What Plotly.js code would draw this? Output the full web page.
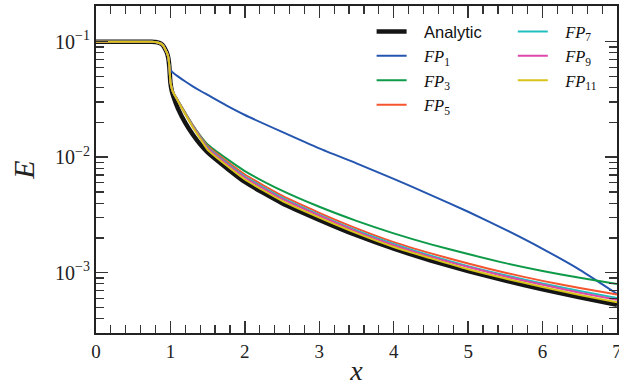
<!DOCTYPE html>
<html>
<head>
<meta charset="utf-8">
<script src="https://cdn.plot.ly/plotly-3.0.1.min.js"></script>
<style>
html,body{margin:0;padding:0;background:#fff;}
#chart{width:619px;height:387px;}
</style>
</head>
<body>
<div id="chart"></div>
<script>
// ---- data ----
const xGrid = [0,0.2,0.4,0.6,0.75,0.8,0.85,0.88,0.91,0.93,0.95,0.97,0.985,1.0,1.02,1.04,1.1,1.2,1.3,1.4,1.5,1.75,2,2.5,3,3.5,4,4.5,5,5.5,6,6.5,7];

const analytic = [0.1,0.1,0.1,0.1,0.0998,0.0993,0.0975,0.0955,0.091,0.086,0.081,0.073,0.061,0.044,0.037,0.0335,0.0265,0.0198,0.0157,0.0129,0.0110,0.0081,0.0061,0.0040,0.00287,0.00211,0.001614,0.001276,0.001033,0.000853,0.000718,0.000611,0.000527];

const fp1  = [0.1,0.1,0.1,0.1,0.0998,0.0993,0.0975,0.0955,0.091,0.086,0.081,0.074,0.062,0.057,0.055,0.0536,0.0501,0.0452,0.0411,0.0376,0.0346,0.0281,0.0232,0.01656,0.01193,0.00885,0.00649,0.00470,0.00337,0.00236,0.00161,0.00106,0.000656];
const fp3  = [0.1,0.1,0.1,0.1,0.0998,0.0993,0.0975,0.0955,0.091,0.086,0.081,0.074,0.062,0.045,0.039,0.036,0.0311,0.0242,0.0190,0.0154,0.0129,0.00977,0.00759,0.00513,0.00372,0.00281,0.00219,0.00176,0.00145,0.00121,0.001035,0.000904,0.0008];
const fp5  = [0.1,0.1,0.1,0.1,0.0998,0.0993,0.0975,0.0955,0.091,0.086,0.081,0.074,0.062,0.045,0.039,0.036,0.0310,0.0241,0.0189,0.0152,0.0125,0.0093,0.00708,0.00464,0.00330,0.00242,0.00184,0.00147,0.00120,0.00100,0.000850,0.000737,0.000647];
const fp7  = [0.1,0.1,0.1,0.1,0.0998,0.0993,0.0975,0.0955,0.091,0.086,0.081,0.074,0.062,0.045,0.039,0.036,0.0309,0.0239,0.0187,0.0150,0.01216,0.0090,0.00681,0.00446,0.00317,0.00232,0.00177,0.00140,0.00114,0.000951,0.000806,0.000695,0.000603];
const fp9  = [0.1,0.1,0.1,0.1,0.0998,0.0993,0.0975,0.0955,0.091,0.086,0.081,0.074,0.062,0.045,0.039,0.036,0.0308,0.0237,0.0185,0.0148,0.01191,0.00882,0.00667,0.00435,0.00311,0.00227,0.00173,0.00137,0.00112,0.000927,0.000785,0.000672,0.000584];
const fp11 = [0.1,0.1,0.1,0.1,0.0998,0.0993,0.0975,0.0955,0.091,0.086,0.081,0.074,0.062,0.045,0.039,0.036,0.0307,0.0235,0.0182,0.0145,0.01156,0.00851,0.00641,0.00419,0.00300,0.00220,0.00167,0.00133,0.00107,0.000890,0.000752,0.000642,0.000556];

const seriesNames = ['Analytic','<i>FP</i><sub>1</sub>','<i>FP</i><sub>3</sub>','<i>FP</i><sub>5</sub>','<i>FP</i><sub>7</sub>','<i>FP</i><sub>9</sub>','<i>FP</i><sub>11</sub>'];
const xTickVals = [0,1,2,3,4,5,6,7];
const yTickVals = [0.001,0.01,0.1];
const yTickText = ['10<sup>\u22123</sup>','10<sup>\u22122</sup>','10<sup>\u22121</sup>'];

// ---- styling ----
const colors = ['#151515','#2456b0','#0e9a48','#f4542e','#22bdbd','#dc47a8','#d6c41a'];
const widths = [4.5,2,2,2,2,2,2];
const legendOf = ['legend','legend','legend','legend','legend2','legend2','legend2'];
const serif = "'Liberation Serif', 'DejaVu Serif', serif";

function nameHtml(n){
  const pad = '\u2002\u2005';
  if (n === 'Analytic') return pad + n;
  return pad + '<span style="font-family:Liberation Serif">' + n + '</span>';
}

const allY = [analytic, fp1, fp3, fp5, fp7, fp9, fp11];
const traces = allY.map((ys, i) => ({
  x: xGrid, y: ys, type: 'scatter', mode: 'lines',
  name: nameHtml(seriesNames[i]),
  line: {color: colors[i], width: widths[i], shape: 'spline', smoothing: 0.6},
  legend: legendOf[i],
  hoverinfo: 'skip'
}));

const legendFont = {family: "'Liberation Sans', Arial, sans-serif", size: 16.5, color: '#111'};

const layout = {
  width: 619, height: 387,
  margin: {l: 96, r: 1.5, t: 6, b: 54},
  paper_bgcolor: '#fff', plot_bgcolor: '#fff',
  showlegend: true,
  legend: {x: 0.529, y: 0.975, xanchor: 'left', yanchor: 'top', bgcolor: 'rgba(0,0,0,0)', font: legendFont, borderwidth: 0},
  legend2: {x: 0.80, y: 0.975, xanchor: 'left', yanchor: 'top', bgcolor: 'rgba(0,0,0,0)', font: legendFont, borderwidth: 0},
  xaxis: {
    range: [0, 7], tickvals: xTickVals, ticktext: xTickVals.map(String),
    ticks: 'inside', ticklen: 12, tickwidth: 1.5, tickcolor: '#333',
    minor: {dtick: 0.2, ticks: 'inside', ticklen: 8, tickwidth: 1.2, tickcolor: '#333', showgrid: false},
    showline: true, linewidth: 2, linecolor: '#222', mirror: 'allticks',
    showgrid: false, zeroline: false, ticklabeloverflow: 'allow',
    tickfont: {family: serif, size: 19, color: '#222'},
    title: {text: '<i>x</i>', font: {family: serif, size: 28, color: '#222'}, standoff: 0}
  },
  yaxis: {
    type: 'log', range: [-3.522, -0.691],
    tickvals: yTickVals, ticktext: yTickText,
    ticks: 'inside', ticklen: 12, tickwidth: 1.5, tickcolor: '#333',
    minor: {dtick: 'D1', ticks: 'inside', ticklen: 8, tickwidth: 1.2, tickcolor: '#333', showgrid: false},
    showline: true, linewidth: 2, linecolor: '#222', mirror: 'allticks',
    showgrid: false, zeroline: false,
    tickfont: {family: serif, size: 20, color: '#222'},
    title: {text: '<i>E</i>', font: {family: serif, size: 30, color: '#222'}, standoff: 12}
  }
};

Plotly.newPlot('chart', traces, layout, {displayModeBar: false, staticPlot: true});
</script>
</body>
</html>
